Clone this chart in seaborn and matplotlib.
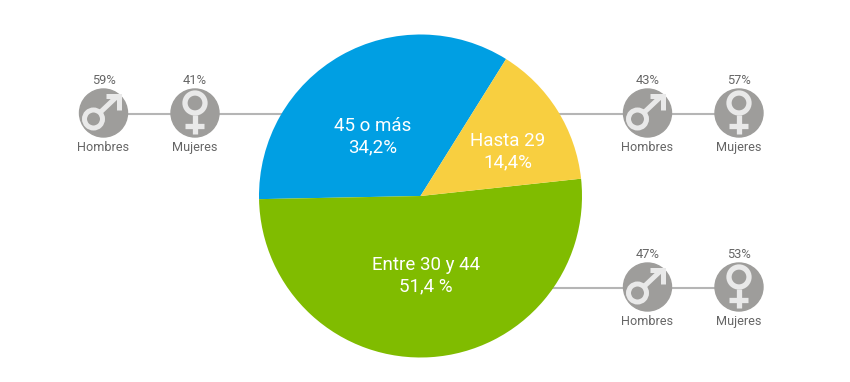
import matplotlib
matplotlib.use('Agg')
from matplotlib import pyplot as plt
from matplotlib.patches import Circle
import seaborn as sns

age_groups = ['45 o más', 'Entre 30 y 44', 'Hasta 29']
age_labels = ['34,2%', '51,4 %', '14,4%']
age_shares = [34.2, 51.4, 14.4]
age_colors = ['#009FE3', '#80BC00', '#F8CF40']
men_shares = [59, 47, 43]
women_shares = [41, 53, 57]

sns.set_theme(style='white')
plt.rcParams['font.family'] = ['Roboto']

H = 382
GREY = '#9E9D9B'
LIGHT = '#E9E9E9'
TEXT = '#666666'
LINE = '#B5B5B5'


def y_(py):
    return H - py


def draw_male(ax, cx, cy):
    lw = 3.6
    ax.add_patch(Circle((cx, y_(cy)), 24, color=GREY, zorder=3))
    ax.add_patch(Circle((cx - 10, y_(cy + 6)), 9, fc='none', ec=LIGHT, lw=lw, zorder=4))
    ax.plot([cx - 4, cx + 14], [y_(cy), y_(cy - 17)], color=LIGHT, lw=lw, zorder=4, solid_capstyle='butt')
    ax.plot([cx + 3, cx + 15.5, cx + 15.5], [y_(cy - 17.5), y_(cy - 17.5), y_(cy - 3)],
            color=LIGHT, lw=lw, zorder=4, solid_joinstyle='miter', solid_capstyle='butt')


def draw_female(ax, cx, cy):
    lw = 3.8
    ax.add_patch(Circle((cx, y_(cy)), 24, color=GREY, zorder=3))
    ax.add_patch(Circle((cx, y_(cy - 10)), 10, fc='none', ec=LIGHT, lw=lw, zorder=4))
    ax.plot([cx, cx], [y_(cy + 2), y_(cy + 20.5)], color=LIGHT, lw=lw, zorder=4, solid_capstyle='butt')
    ax.plot([cx - 9.5, cx + 9.5], [y_(cy + 12.5), y_(cy + 12.5)], color=LIGHT, lw=lw, zorder=4, solid_capstyle='butt')


def draw_pair(ax, male_x, female_x, cy, men, women, line_from, line_to):
    ax.plot([line_from, line_to], [y_(cy + 1), y_(cy + 1)], color=LINE, lw=1.5, zorder=0.5)
    draw_male(ax, male_x, cy)
    draw_female(ax, female_x, cy)
    for x, val, name in [(male_x, men, 'Hombres'), (female_x, women, 'Mujeres')]:
        ax.text(x, y_(cy - 33), f'{val}%', ha='center', va='center', fontsize=9.3, color=TEXT)
        ax.text(x, y_(cy + 38), name, ha='center', va='baseline', fontsize=9.1, color=TEXT)


fig = plt.figure(figsize=(8.5, 3.82), dpi=100)
ax = fig.add_axes([0, 0, 1, 1])

ax.pie(age_shares, colors=age_colors, startangle=58, center=(420.5, y_(196)), radius=161.5,
       wedgeprops={'linewidth': 0, 'zorder': 2}, frame=True)
ax.set_xlim(0, 850)
ax.set_ylim(0, H)
ax.axis('off')

for i, (x, py) in enumerate([(372.5, 136.5), (426, 275.5), (507.5, 151.5)]):
    ax.text(x, y_(py), f'{age_groups[i]}\n{age_labels[i]}', ha='center', va='center', color='white',
            fontsize=13.5, linespacing=1.25, zorder=5)

draw_pair(ax, 103.5, 195, 113, men_shares[0], women_shares[0], 104, 290)
draw_pair(ax, 647.5, 739, 287, men_shares[1], women_shares[1], 540, 739)
draw_pair(ax, 647.5, 739, 113, men_shares[2], women_shares[2], 540, 739)

fig.savefig('out.png', dpi=100)
